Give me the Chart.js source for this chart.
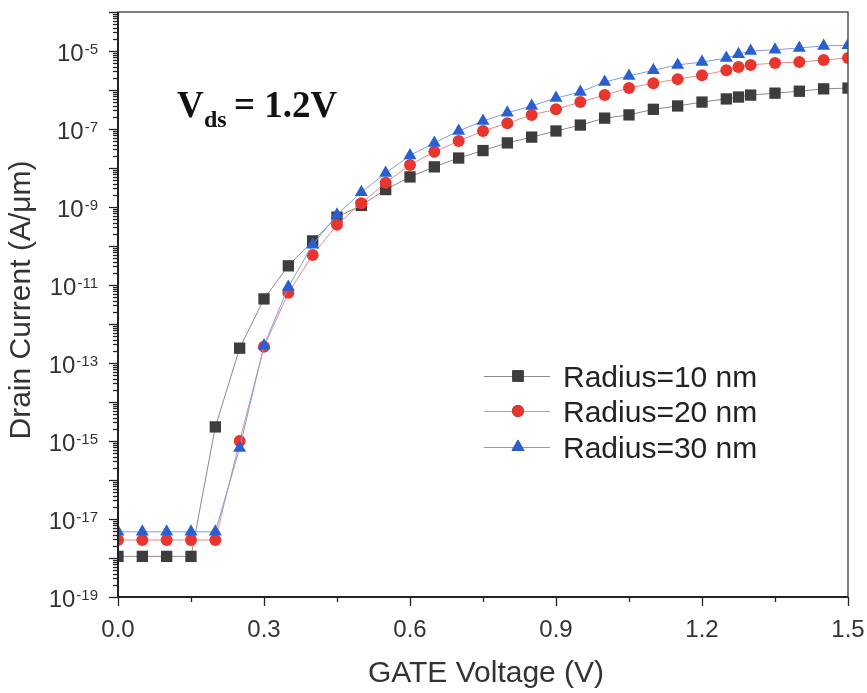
<!DOCTYPE html>
<html lang="en">
<head>
<meta charset="UTF-8">
<title>Drain Current vs Gate Voltage</title>
<script src="https://cdn.jsdelivr.net/npm/chart.js"></script>
<style>
  body { margin: 0; background: #fff; }
  #wrap { width: 867px; height: 693px; }
</style>
</head>
<body>
<div id="wrap"><canvas id="idChart"></canvas></div>
<script>
// gate voltage points (V)
const gateVoltage = [0, 0.05, 0.1, 0.15, 0.2, 0.25, 0.3, 0.35, 0.4, 0.45, 0.5, 0.55, 0.6, 0.65, 0.7, 0.75,
  0.8, 0.85, 0.9, 0.95, 1.0, 1.05, 1.1, 1.15, 1.2, 1.25, 1.275, 1.3, 1.35, 1.4, 1.45, 1.5];

// drain current (A/um)
const radius10 = [1.1e-18, 1.1e-18, 1.1e-18, 1.1e-18, 2.3e-15, 2.4e-13, 4.4e-12, 3.1e-11, 1.35e-10, 5.5e-10,
  1.1e-9, 2.8e-9, 5.9e-9, 1.07e-8, 1.8e-8, 2.8e-8, 4.4e-8, 6.2e-8, 8.9e-8, 1.26e-7, 1.9e-7, 2.3e-7, 3.2e-7,
  3.9e-7, 4.9e-7, 5.9e-7, 6.6e-7, 7.4e-7, 8.3e-7, 9.3e-7, 1.07e-6, 1.12e-6];
const radius20 = [2.9e-18, 2.9e-18, 2.9e-18, 2.9e-18, 2.9e-18, 1.0e-15, 2.6e-13, 6.3e-12, 5.9e-11, 3.5e-10,
  1.25e-9, 4.2e-9, 1.2e-8, 2.6e-8, 4.9e-8, 8.9e-8, 1.4e-7, 2.3e-7, 3.2e-7, 4.9e-7, 7.4e-7, 1.12e-6, 1.5e-6,
  1.9e-6, 2.4e-6, 3.2e-6, 3.9e-6, 4.4e-6, 4.9e-6, 5.2e-6, 5.9e-6, 6.6e-6];
const radius30 = [4.7e-18, 4.7e-18, 4.7e-18, 4.7e-18, 4.7e-18, 6.6e-16, 2.8e-13, 8.9e-12, 1.07e-10, 6.3e-10,
  2.4e-9, 7.4e-9, 2.1e-8, 4.4e-8, 8.9e-8, 1.6e-7, 2.6e-7, 3.9e-7, 6.2e-7, 8.9e-7, 1.6e-6, 2.3e-6, 3.2e-6,
  4.4e-6, 5.2e-6, 6.6e-6, 8.3e-6, 1.0e-5, 1.07e-5, 1.2e-5, 1.35e-5, 1.4e-5];

const seriesNames = ['Radius=10 nm', 'Radius=20 nm', 'Radius=30 nm'];
const xTicks = [0, 0.3, 0.6, 0.9, 1.2, 1.5];
const yTickExps = [-19, -17, -15, -13, -11, -9, -7, -5];

const toPoints = ys => gateVoltage.map((v, i) => ({ x: v, y: ys[i] }));

const sansFont = '"Liberation Sans", Arial, sans-serif';
const serifBold = px => 'bold ' + px + 'px "Liberation Serif", "Times New Roman", serif';

// frame, ticks, labels, legend and the Vds note
const decorations = {
  id: 'decorations',
  afterDraw(chart) {
    const ctx = chart.ctx;
    const area = chart.chartArea;
    const xs = chart.scales.x, ys = chart.scales.y;
    ctx.save();

    // frame
    ctx.strokeStyle = '#555';
    ctx.lineWidth = 1.5;
    ctx.strokeRect(area.left, area.top, area.right - area.left, area.bottom - area.top);
    ctx.strokeStyle = '#222';
    ctx.lineWidth = 2;
    ctx.beginPath();
    ctx.moveTo(area.left, area.top);
    ctx.lineTo(area.left, area.bottom);
    ctx.lineTo(area.right, area.bottom);
    ctx.stroke();

    // y ticks (log)
    ctx.lineWidth = 1.3;
    ctx.strokeStyle = '#222';
    for (let e = -19; e <= -4; e++) {
      const py = Math.round(ys.getPixelForValue(Math.pow(10, e))) + 0.5;
      ctx.beginPath();
      ctx.moveTo(area.left - 9, py);
      ctx.lineTo(area.left, py);
      ctx.stroke();
      if (e < -4) {
        for (let m = 2; m <= 9; m++) {
          const pm = Math.round(ys.getPixelForValue(m * Math.pow(10, e))) + 0.5;
          ctx.beginPath();
          ctx.moveTo(area.left - 5, pm);
          ctx.lineTo(area.left, pm);
          ctx.stroke();
        }
      }
    }

    // x ticks
    for (let k = 0; k <= 10; k++) {
      const px = Math.round(xs.getPixelForValue(k * 0.15)) + 0.5;
      const len = k % 2 === 0 ? 9 : 5;
      ctx.beginPath();
      ctx.moveTo(px, area.bottom);
      ctx.lineTo(px, area.bottom + len);
      ctx.stroke();
    }

    // x tick labels
    ctx.fillStyle = '#333';
    ctx.font = '24px ' + sansFont;
    ctx.textAlign = 'center';
    ctx.textBaseline = 'alphabetic';
    xTicks.forEach(v => {
      ctx.fillText(v.toFixed(1), xs.getPixelForValue(v), area.bottom + 40);
    });

    // y tick labels 10^n
    yTickExps.forEach(e => {
      const py = ys.getPixelForValue(Math.pow(10, e));
      ctx.font = '15px ' + sansFont;
      const sup = String(e);
      const supW = ctx.measureText(sup).width;
      ctx.textAlign = 'right';
      ctx.fillText(sup, area.left - 20, py + 3);
      ctx.font = '24px ' + sansFont;
      ctx.fillText('10', area.left - 20 - supW - 1, py + 10);
    });

    // axis titles
    ctx.fillStyle = '#333';
    ctx.font = '30px ' + sansFont;
    ctx.textAlign = 'center';
    ctx.fillText('GATE Voltage (V)', 486, 682);
    ctx.save();
    ctx.translate(30, 300);
    ctx.rotate(-Math.PI / 2);
    ctx.fillText('Drain Current (A/\u03BCm)', 0, 0);
    ctx.restore();

    // Vds note
    ctx.fillStyle = '#111';
    ctx.textAlign = 'left';
    ctx.font = serifBold(37);
    ctx.fillText('V', 177, 117);
    ctx.font = serifBold(24);
    ctx.fillText('ds', 204, 127);
    ctx.font = serifBold(37);
    ctx.fillText('= 1.2V', 234, 117);

    // legend
    const rows = [376, 411, 447];
    chart.data.datasets.forEach((ds, i) => {
      const y = rows[i];
      ctx.strokeStyle = ds.borderColor;
      ctx.lineWidth = 1;
      ctx.beginPath();
      ctx.moveTo(484, y + 0.5);
      ctx.lineTo(550, y + 0.5);
      ctx.stroke();
      Chart.helpers.drawPoint(ctx, {
        pointStyle: ds.pointStyle,
        radius: ds.pointRadius,
        rotation: 0,
        borderWidth: 0
      }, 518, y);
      ctx.fillStyle = ds.pointBackgroundColor;
      ctx.fill();
      ctx.fillStyle = '#222';
      ctx.font = '30px ' + sansFont;
      ctx.textAlign = 'left';
      ctx.fillText(seriesNames[i], 563, y + 11);
    });

    ctx.restore();
  }
};

new Chart(document.getElementById('idChart'), {
  type: 'line',
  data: {
    datasets: [
      {
        label: seriesNames[0],
        data: toPoints(radius10),
        borderColor: '#8a8a8a',
        borderWidth: 1,
        pointStyle: 'rect',
        pointRadius: 8,
        pointBackgroundColor: '#3d3d3d',
        pointBorderWidth: 0,
        order: 3,
        clip: 0
      },
      {
        label: seriesNames[1],
        data: toPoints(radius20),
        borderColor: '#e88a8a',
        borderWidth: 1,
        pointStyle: 'circle',
        pointRadius: 6,
        pointBackgroundColor: '#e8362e',
        pointBorderWidth: 0,
        order: 2,
        clip: 0
      },
      {
        label: seriesNames[2],
        data: toPoints(radius30),
        borderColor: '#7f9fdc',
        borderWidth: 1,
        pointStyle: 'triangle',
        pointRadius: 7.5,
        pointBackgroundColor: '#2a5fd2',
        pointBorderWidth: 0,
        order: 1,
        clip: 0
      }
    ]
  },
  options: {
    responsive: true,
    maintainAspectRatio: false,
    animation: false,
    layout: { padding: { left: 118, top: 12, right: 19, bottom: 96 } },
    scales: {
      x: { type: 'linear', min: 0, max: 1.5, display: false },
      y: { type: 'logarithmic', min: 1e-19, max: 1e-4, display: false }
    },
    plugins: {
      legend: { display: false },
      tooltip: { enabled: false }
    },
    elements: { line: { tension: 0 } }
  },
  plugins: [decorations]
});
</script>
</body>
</html>
